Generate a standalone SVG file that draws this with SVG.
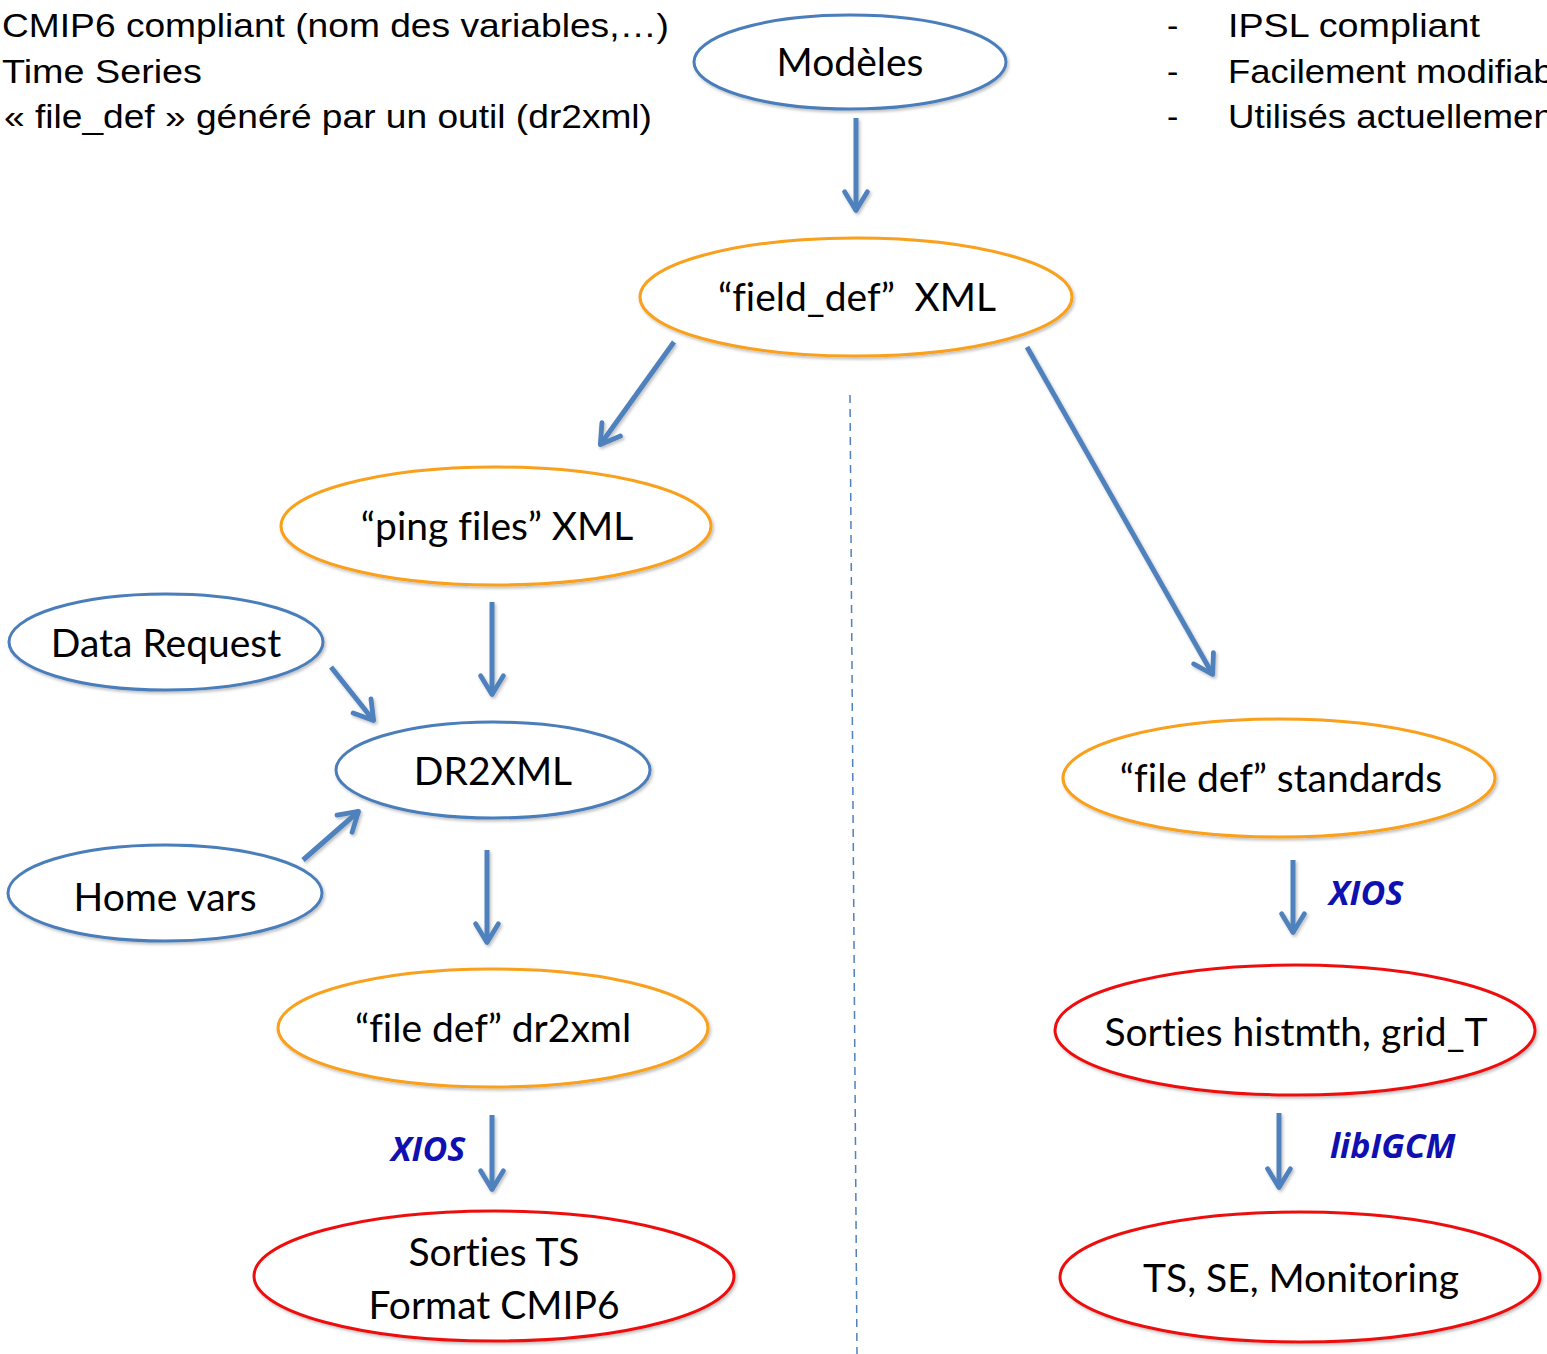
<svg xmlns="http://www.w3.org/2000/svg" width="1547" height="1354" viewBox="0 0 1547 1354">
<style>
.e{fill:#fff;stroke-width:3;filter:url(#sh)}
.b{stroke:#4A7EBB}
.o{stroke:#F9A01B}
.r{stroke:#EE1111}
.lbl{font-family:Lato,"Open Sans",sans-serif;font-size:39px;fill:#000;text-anchor:middle;font-variant-ligatures:none}
.top{font-family:"Liberation Sans",Arial,sans-serif;font-size:34px;fill:#000}
.tool{font-family:"Open Sans","Liberation Sans",sans-serif;font-size:34px;font-weight:bold;font-style:italic;fill:#1010B0}
.ar{stroke:#4F81BD;stroke-width:5;fill:none;stroke-linecap:butt;filter:url(#sha)}
</style>
<defs>
<filter id="sh" x="-20%" y="-20%" width="140%" height="140%">
<feDropShadow dx="1.5" dy="2" stdDeviation="1.5" flood-color="#000" flood-opacity="0.25"/>
</filter>
<filter id="sha" filterUnits="userSpaceOnUse" x="0" y="0" width="1547" height="1354">
<feDropShadow dx="1.5" dy="2" stdDeviation="1.5" flood-color="#000" flood-opacity="0.25"/>
</filter>
<marker id="ah" viewBox="0 0 10 10" refX="8.2" refY="5" markerWidth="6" markerHeight="6" markerUnits="strokeWidth" orient="auto">
<path d="M1.8,1.2 L8,5 L1.8,8.8" fill="none" stroke="#4F81BD" stroke-width="1.6" stroke-linecap="round" stroke-linejoin="round"/>
</marker>
</defs>

<g id="notes-left">
<text class="top" x="2" y="37" textLength="667" lengthAdjust="spacingAndGlyphs">CMIP6 compliant (nom des variables,…)</text>
<text class="top" x="2" y="83" textLength="200" lengthAdjust="spacingAndGlyphs">Time Series</text>
<text class="top" x="4" y="128" textLength="648" lengthAdjust="spacingAndGlyphs">« file_def » généré par un outil (dr2xml)</text>
</g>
<g id="notes-right">
<text class="top" x="1167" y="37">-</text>
<text class="top" x="1228" y="37" textLength="252" lengthAdjust="spacingAndGlyphs">IPSL compliant</text>
<text class="top" x="1167" y="83">-</text>
<text class="top" x="1228" y="83" textLength="372" lengthAdjust="spacingAndGlyphs">Facilement modifiables</text>
<text class="top" x="1167" y="128">-</text>
<text class="top" x="1228" y="128" textLength="336" lengthAdjust="spacingAndGlyphs">Utilisés actuellement</text>
</g>

<g id="connectors">
<line class="ar" x1="856" y1="118" x2="856" y2="211" marker-end="url(#ah)"/>
<line class="ar" x1="674" y1="342" x2="600" y2="445" marker-end="url(#ah)"/>
<line class="ar" x1="1027" y1="347" x2="1213" y2="675" marker-end="url(#ah)"/>
<line class="ar" x1="492" y1="602" x2="492" y2="695" marker-end="url(#ah)"/>
<line class="ar" x1="331" y1="667" x2="374" y2="721" marker-end="url(#ah)"/>
<line class="ar" x1="303" y1="860" x2="359" y2="811" marker-end="url(#ah)"/>
<line class="ar" x1="487" y1="850" x2="487" y2="943" marker-end="url(#ah)"/>
<line class="ar" x1="1293" y1="860" x2="1293" y2="933" marker-end="url(#ah)"/>
<line class="ar" x1="492" y1="1115" x2="492" y2="1190" marker-end="url(#ah)"/>
<line class="ar" x1="1279" y1="1113" x2="1279" y2="1188" marker-end="url(#ah)"/>
<line x1="850" y1="395" x2="857" y2="1354" stroke="#4F81BD" stroke-width="1.5" stroke-dasharray="8,6"/>
</g>

<g id="modeles"><ellipse class="e b" cx="850" cy="62" rx="156" ry="47"/><text class="lbl" x="850" y="76">Modèles</text></g>
<g id="field-def"><ellipse class="e o" cx="856" cy="297" rx="216" ry="59"/><text class="lbl" x="857" y="311">“field_def” &#160;XML</text></g>
<g id="ping-files"><ellipse class="e o" cx="496" cy="526" rx="215" ry="59"/><text class="lbl" x="497" y="540">“ping files” XML</text></g>
<g id="data-request"><ellipse class="e b" cx="166" cy="642" rx="157" ry="48"/><text class="lbl" x="166" y="657">Data Request</text></g>
<g id="dr2xml"><ellipse class="e b" cx="493" cy="770" rx="157" ry="48"/><text class="lbl" x="493" y="785">DR2XML</text></g>
<g id="home-vars"><ellipse class="e b" cx="165" cy="893" rx="157" ry="48"/><text class="lbl" x="165" y="911">Home vars</text></g>
<g id="file-def-dr2xml"><ellipse class="e o" cx="493" cy="1028" rx="215" ry="59"/><text class="lbl" x="493" y="1042">“file def” dr2xml</text></g>
<g id="sorties-ts"><ellipse class="e r" cx="494" cy="1276" rx="240" ry="65"/><text class="lbl" x="494" y="1266">Sorties TS</text><text class="lbl" x="494" y="1319">Format CMIP6</text></g>
<g id="file-def-standards"><ellipse class="e o" cx="1279" cy="778" rx="216" ry="59"/><text class="lbl" x="1281" y="792">“file def” standards</text></g>
<g id="sorties-histmth"><ellipse class="e r" cx="1295" cy="1030" rx="240" ry="65"/><text class="lbl" x="1296" y="1046">Sorties histmth, grid_T</text></g>
<g id="ts-se-monitoring"><ellipse class="e r" cx="1300" cy="1277" rx="240" ry="65"/><text class="lbl" x="1301" y="1292">TS, SE, Monitoring</text></g>

<g id="labels">
<text class="tool" x="1329" y="905">XIOS</text>
<text class="tool" x="391" y="1161">XIOS</text>
<text class="tool" x="1330" y="1158">libIGCM</text>
</g>
</svg>
